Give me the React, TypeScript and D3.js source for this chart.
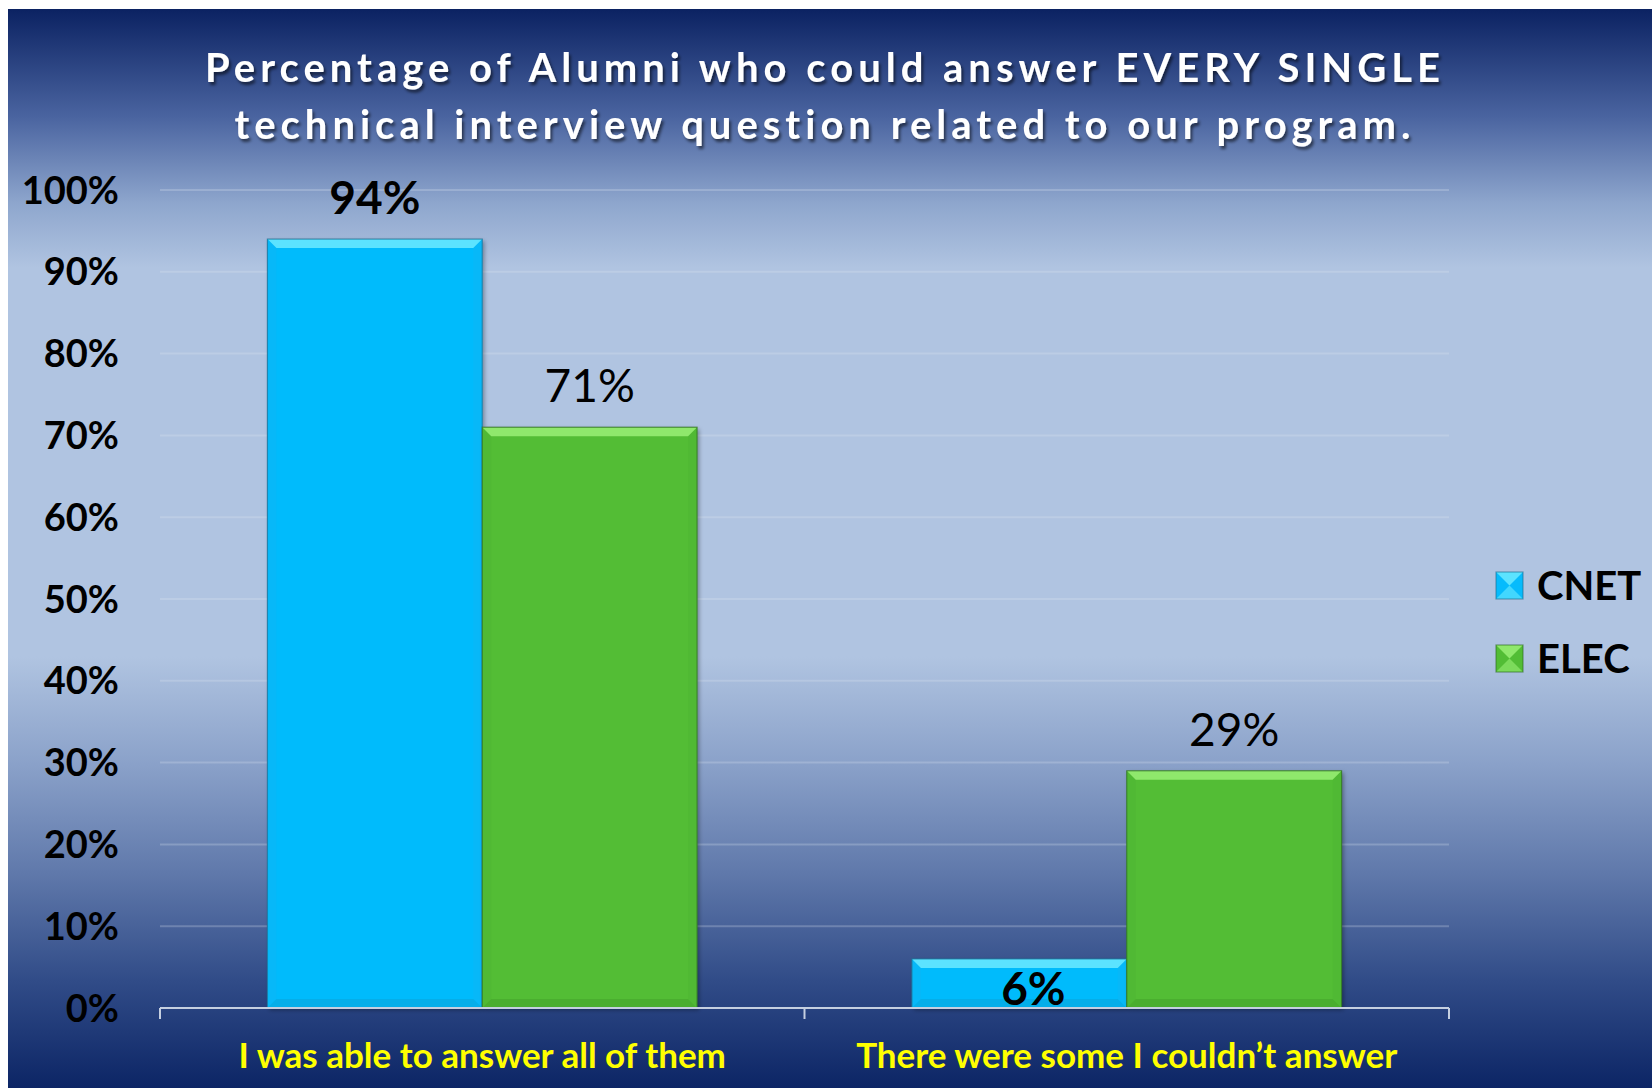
import React from "react";
import * as d3 from "d3";

// chart values
const categories = ["I was able to answer all of them", "There were some I couldn’t answer"];
const seriesNames = ["CNET", "ELEC"];
const cnetValues = [94, 6];
const elecValues = [71, 29];
const yTicks = [0, 10, 20, 30, 40, 50, 60, 70, 80, 90, 100];
const titleLines = [
  "Percentage of Alumni who could answer EVERY SINGLE",
  "technical interview question related to our program.",
];

const seriesValues: Record<string, number[]> = { CNET: cnetValues, ELEC: elecValues };

const palette: Record<string, { base: string; top: string; side: string; bottom: string; stroke: string }> = {
  CNET: { base: "#06bbfc", top: "#5ce3ff", side: "#07b8f8", bottom: "#05aee9", stroke: "#1f6f93" },
  ELEC: { base: "#52bd35", top: "#8fe86c", side: "#50b934", bottom: "#4aae2f", stroke: "#2f6d22" },
};
const labelWeight: Record<string, number> = { CNET: 700, ELEC: 400 };

const W = 1652;
const H = 1088;
const FONT = "Lato, 'Open Sans', sans-serif";

const App: React.FC = () => {
  const plotLeft = 160;
  const plotRight = 1449;
  const y = d3.scaleLinear().domain([0, 100]).range([1008, 190]);
  const x0 = d3.scaleBand<string>().domain(categories).range([plotLeft, plotRight]).padding(0);
  const x1 = d3
    .scaleBand<string>()
    .domain(seriesNames)
    .range([0, x0.bandwidth()])
    .paddingInner(0)
    .paddingOuter(0.5);

  const bevel = 9;

  const bar = (s: string, i: number) => {
    const v = seriesValues[s][i];
    const bx = (x0(categories[i]) as number) + (x1(s) as number);
    const bw = x1.bandwidth();
    const by = y(v);
    const bh = y(0) - by;
    const c = palette[s];
    const b = Math.min(bevel, bh / 2);
    const pts = (p: number[][]) => p.map((q) => q.join(",")).join(" ");
    const heightOk = bh > 55;
    const labelY = heightOk ? by - 25 : y(0) - 3;
    const labelX = heightOk ? bx + bw / 2 : bx + bw / 2 + 14;
    return (
      <g key={s + i}>
        <g filter="url(#barShadow)">
          <rect x={bx} y={by} width={bw} height={bh} fill={c.base} />
        </g>
        <polygon
          points={pts([[bx, by], [bx + b, by + b], [bx + b, by + bh - b], [bx, by + bh]])}
          fill={c.side}
        />
        <polygon
          points={pts([[bx + bw, by], [bx + bw - b, by + b], [bx + bw - b, by + bh - b], [bx + bw, by + bh]])}
          fill={c.side}
        />
        <polygon
          points={pts([[bx, by + bh], [bx + b, by + bh - b], [bx + bw - b, by + bh - b], [bx + bw, by + bh]])}
          fill={c.bottom}
        />
        <polygon points={pts([[bx, by], [bx + bw, by], [bx + bw - b, by + b], [bx + b, by + b]])} fill={c.top} />
        <rect x={bx} y={by} width={bw} height={bh} fill="none" stroke={c.stroke} strokeOpacity={0.7} strokeWidth={1.2} />
        <text
          x={labelX}
          y={labelY}
          textAnchor="middle"
          fontFamily={FONT}
          fontWeight={labelWeight[s]}
          fontSize={46}
          fill="#000"
        >
          {v}%
        </text>
      </g>
    );
  };

  return (
    <svg
      width={W}
      height={H}
      viewBox={`0 0 ${W} ${H}`}
      style={{ position: "absolute", left: 0, top: 0, display: "block" }}
    >
      <defs>
        <linearGradient id="bg" x1="0" y1="0" x2="0" y2="1">
          <stop offset="0" stopColor="#0b2262" />
          <stop offset="0.1" stopColor="#4a64a0" />
          <stop offset="0.18" stopColor="#8ea6cd" />
          <stop offset="0.24" stopColor="#b0c4e1" />
          <stop offset="0.6" stopColor="#b0c4e1" />
          <stop offset="0.7" stopColor="#8aa1c9" />
          <stop offset="0.8" stopColor="#6079ab" />
          <stop offset="0.9" stopColor="#314c88" />
          <stop offset="1" stopColor="#0c2565" />
        </linearGradient>
        <filter id="barShadow" x="-10%" y="-10%" width="130%" height="130%">
          <feDropShadow dx="2" dy="2" stdDeviation="2" floodColor="#000" floodOpacity="0.35" />
        </filter>
        <filter id="titleShadow" x="-5%" y="-20%" width="110%" height="160%">
          <feDropShadow dx="2" dy="3" stdDeviation="1.5" floodColor="#000" floodOpacity="0.55" />
        </filter>
      </defs>

      <rect x={0} y={0} width={W} height={H} fill="#fff" />
      <rect x={8} y={9} width={W - 8} height={H - 9} fill="url(#bg)" />

      {/* title */}
      <g filter="url(#titleShadow)">
        {titleLines.map((t, i) => (
          <text
            key={i}
            x={825}
            y={82 + i * 57}
            textAnchor="middle"
            fontFamily={FONT}
            fontWeight={700}
            fontSize={40}
            letterSpacing={5}
            fill="#fff"
          >
            {t}
          </text>
        ))}
      </g>

      {/* gridlines */}
      {yTicks
        .filter((t) => t > 0)
        .map((t) => (
          <line
            key={t}
            x1={plotLeft}
            x2={plotRight}
            y1={y(t)}
            y2={y(t)}
            stroke="#dfe8f5"
            strokeOpacity={0.25}
            strokeWidth={2}
          />
        ))}

      {/* y tick labels */}
      {yTicks.map((t) => (
        <text
          key={t}
          x={119}
          y={y(t)}
          dy="0.36em"
          textAnchor="end"
          fontFamily={FONT}
          fontWeight={700}
          fontSize={38}
          fill="#000"
        >
          {t}%
        </text>
      ))}

      {/* bars */}
      {categories.map((_, i) => seriesNames.map((s) => bar(s, i)))}

      {/* x axis */}
      <line x1={plotLeft} x2={plotRight} y1={y(0)} y2={y(0)} stroke="#c5cfe0" strokeWidth={2} />
      {[...categories.map((c) => x0(c) as number), plotRight].map((tx, i) => (
        <line key={i} x1={tx} x2={tx} y1={y(0)} y2={y(0) + 11} stroke="#c5cfe0" strokeWidth={2} />
      ))}
      {categories.map((c) => (
        <text
          key={c}
          x={(x0(c) as number) + x0.bandwidth() / 2}
          y={1068}
          textAnchor="middle"
          fontFamily={FONT}
          fontWeight={700}
          fontSize={35}
          fill="#ffff00"
        >
          {c}
        </text>
      ))}

      {/* legend */}
      {seriesNames.map((s, i) => {
        const lx = 1496;
        const ly = 572 + i * 73;
        const sz = 27;
        const c = palette[s];
        const pts = (p: number[][]) => p.map((q) => q.join(",")).join(" ");
        const cx = lx + sz / 2;
        const cy = ly + sz / 2;
        return (
          <g key={s}>
            <rect x={lx} y={ly} width={sz} height={sz} fill={c.base} />
            <polygon points={pts([[lx, ly], [lx + sz, ly], [cx, cy]])} fill={c.top} />
            <polygon points={pts([[lx, ly + sz], [lx + sz, ly + sz], [cx, cy]])} fill={c.top} opacity={0.7} />
            <rect x={lx} y={ly} width={sz} height={sz} fill="none" stroke={c.stroke} strokeOpacity={0.6} strokeWidth={1.2} />
            <text
              x={1537}
              y={cy}
              dy="0.36em"
              fontFamily={FONT}
              fontWeight={700}
              fontSize={40}
              fill="#000"
            >
              {s}
            </text>
          </g>
        );
      })}
    </svg>
  );
};

export default App;
